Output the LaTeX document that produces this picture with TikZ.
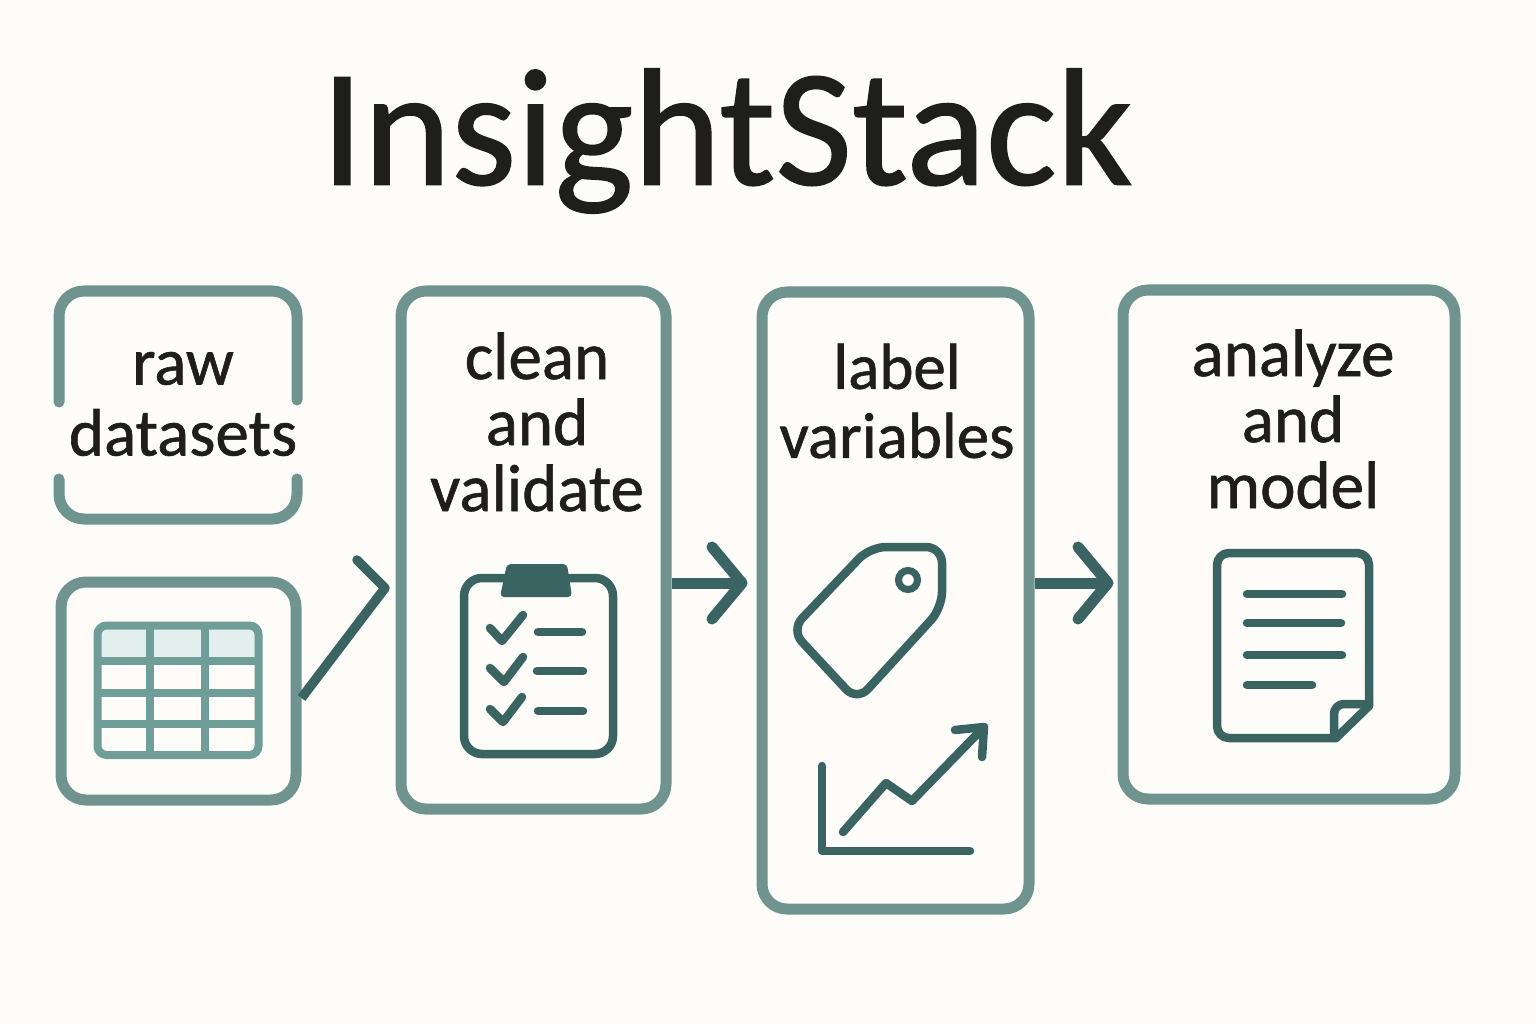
\documentclass[tikz,border=0pt]{standalone}
\usepackage{fontspec}
\setmainfont[FakeBold=0.9]{Carlito}
\usepackage[dvipsnames]{xcolor}
\usetikzlibrary{arrows.meta}
\definecolor{paper}{HTML}{FDFCF8}
\definecolor{frame}{HTML}{6F9490}
\definecolor{tablecol}{HTML}{6F9E99}
\definecolor{headcol}{HTML}{E2EFEC}
\definecolor{icon}{HTML}{3A6462}
\definecolor{ink}{HTML}{1E1E1C}
\tikzstyle{panel} = [rectangle, rounded corners=25pt, inner sep=0pt, line width=11pt, draw=frame]
\tikzstyle{title} = [text=ink, font=\fontsize{167}{175}\selectfont]
\tikzstyle{caption} = [text=ink, align=center, font=\fontsize{67}{66}\selectfont]
\tikzstyle{icon line} = [line width=8.5pt, draw=icon, line cap=round, line join=round]
\tikzstyle{arrow} = [line width=9.5pt, draw=icon, line cap=round, line join=round]
\tikzstyle{barb arrow} = [arrow, line width=11pt, -{Straight Barb[length=30pt, width=72pt, round]}]

\begin{document}
\begin{tikzpicture}[x=1pt, y=-1pt]

\fill [paper] (0, 0) rectangle (1536, 1024);

\node at (727, 141) (title) [title] {InsightStack};

% raw datasets: frame open on both sides
\node at (178, 405) (rawbox) [minimum width=238, minimum height=228, inner sep=0pt] {};
\draw [line width=11pt, draw=frame, line cap=round, rounded corners=25pt] (59, 402) -- (59, 291) -- (297, 291) -- (297, 400);
\draw [line width=11pt, draw=frame, line cap=round, rounded corners=25pt] (59, 479) -- (59, 519) -- (297, 519) -- (297, 479);
\node at (183, 404) (rawtext) [caption] {raw\\[5pt]datasets};

\node at (178.5, 691) (tablebox) [panel, minimum width=235, minimum height=218] {};
\node at (533.5, 550) (cleanbox) [panel, minimum width=265, minimum height=518] {};
\node at (895.5, 600.5) (labelbox) [panel, minimum width=267, minimum height=617] {};
\node at (1289, 544.5) (modelbox) [panel, minimum width=332, minimum height=509] {};

\node at (537, 422) (cleantext) [caption] {clean\\and\\validate};
\node at (897, 401) (labeltext) [caption, font=\fontsize{65}{66}\selectfont] {label\\[3pt]variables};
\node at (1293, 419) (modeltext) [caption] {analyze\\and\\model};

% table icon
\fill [headcol] (98, 625) rectangle (258, 661);
\draw [line width=8pt, draw=tablecol, rounded corners=9pt] (97.5, 625.5) rectangle (258.5, 755);
\draw [line width=8pt, draw=tablecol] (150, 625) -- (150, 755);
\draw [line width=8pt, draw=tablecol] (205, 625) -- (205, 755);
\draw [line width=8pt, draw=tablecol] (98, 661) -- (258, 661);
\draw [line width=8pt, draw=tablecol] (98, 693) -- (258, 693);
\draw [line width=8pt, draw=tablecol] (98, 724) -- (258, 724);

% clipboard icon
\draw [icon line, rounded corners=18pt] (464, 578) rectangle (613, 754);
\fill [icon, rounded corners=4pt] (507, 564) -- (567, 564) -- (572, 597) -- (500, 597) -- cycle;
\draw [icon line] (490, 628) -- (502, 641) -- (523, 615);
\draw [icon line] (490, 668) -- (504, 682) -- (523, 657);
\draw [icon line] (490, 709) -- (503, 722) -- (522, 697);
\draw [icon line] (538, 632) -- (582, 632);
\draw [icon line] (537, 671) -- (583, 671);
\draw [icon line] (538, 711) -- (583, 711);

% tag icon
\draw [icon line, rounded corners=16pt] (870, 547) -- (942, 547) -- (942, 608) -- (857, 701) -- (791, 630) -- cycle;
\draw [line width=7pt, draw=icon] (908, 580) circle (9.5);

% chart icon
\draw [icon line] (822, 766) -- (822, 851) -- (970, 851);
\draw [icon line] (843, 832) -- (886, 783) -- (912, 801) -- (984, 727);
\draw [icon line] (955, 730) -- (984, 727) -- (982, 757);

% document icon
\draw [icon line, rounded corners=12pt] (1369, 706) -- (1369, 553) -- (1217, 553) -- (1217, 738) -- (1336, 738);
\draw [icon line] (1336, 738) -- (1369, 706);
\draw [icon line, rounded corners=10pt] (1334, 738) -- (1334, 704) -- (1369, 704);
\draw [icon line] (1247, 594) -- (1342, 594);
\draw [icon line] (1247, 623) -- (1341, 623);
\draw [icon line] (1247, 655) -- (1342, 655);
\draw [icon line] (1247, 685) -- (1312, 685);

% connectors
\coordinate (rowa) at (0, 698);
\coordinate (rowb) at (0, 583);
\coordinate (tipa) at (385, 588);
\coordinate (barba) at (357, 560);
\draw [arrow, line cap=butt] (tablebox.east |- rowa) -- (tipa);
\draw [arrow] (tipa) -- (barba);
\draw [barb arrow, shorten >=9pt, line cap=butt] (cleanbox.east |- rowb) -- (labelbox.west |- rowb);
\draw [barb arrow, shorten >=4pt, line cap=butt] (labelbox.east |- rowb) -- (modelbox.west |- rowb);

\end{tikzpicture}
\end{document}
